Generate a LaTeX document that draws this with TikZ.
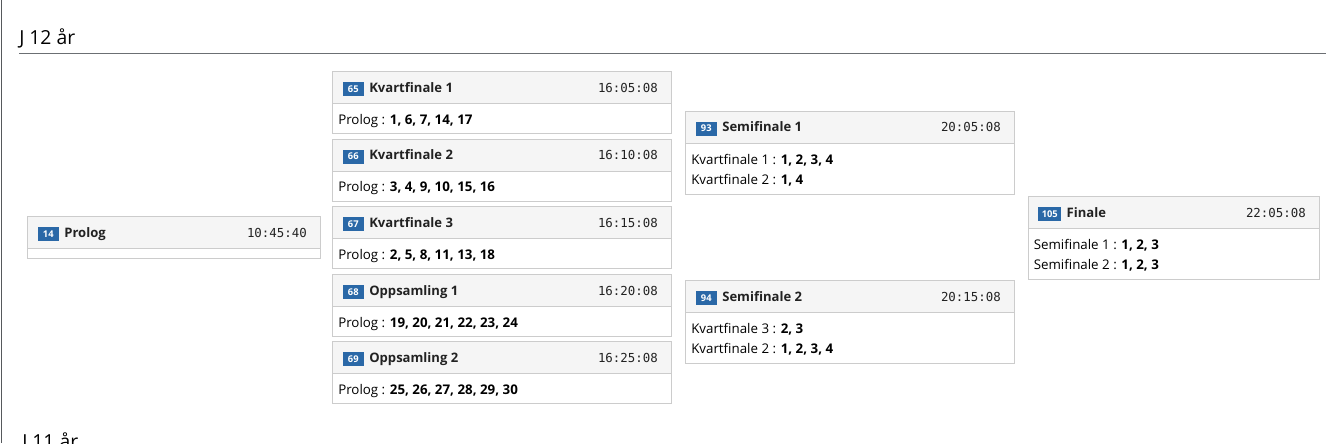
\documentclass[tikz,border=0pt]{standalone}
\usepackage{fontspec}
\setmainfont{Open Sans}[BoldFont={Open Sans Bold}]
\newfontfamily\monof{DejaVu Sans Mono}
\definecolor{bcol}{HTML}{CCCCCC}
\definecolor{hfill}{HTML}{F5F5F5}
\definecolor{bblue}{HTML}{2A68A7}
\definecolor{tcol}{HTML}{222222}
\definecolor{rulecol}{HTML}{6B6F73}
\newlength\px \setlength\px{0.75pt}
\tikzset{
 hdr/.style={draw=bcol, fill=hfill, line width=1\px, anchor=north west, minimum height=32\px, inner sep=0pt, outer sep=0pt},
 bdy/.style={draw=bcol, fill=white, line width=1\px, anchor=north west, inner sep=0pt, outer sep=0pt},
 badge/.style={fill=bblue, text=white, font=\fontsize{7}{8}\selectfont\bfseries, minimum height=14\px, minimum width=21\px, inner xsep=2.6pt, inner ysep=0pt, anchor=west},
 ttl/.style={font=\fontsize{9.8}{11}\selectfont\bfseries, text=tcol, anchor=base west, inner sep=0pt},
 tm/.style={font=\monof\fontsize{9.3}{11}\selectfont, text=tcol, anchor=base east, inner sep=0pt},
 btxt/.style={font=\fontsize{10}{11}\selectfont, text=black, anchor=base west, inner sep=0pt},
 heading/.style={font=\fontsize{14.5}{17}\selectfont, text=black, anchor=base west, inner sep=0pt},
}
% #1 name, #2 x, #3 top, #4 width, #5 badge, #6 title, #7 time, #8 body height
\newcommand\card[8]{%
 \node[hdr, minimum width=#4\px] (#1h) at (#2,#3) {};
 \node[bdy, minimum width=#4\px, minimum height=#8\px] (#1b) at (#1h.south west) {};
 \node[badge] (#1n) at ([xshift=10\px,yshift=-17.5\px]#1h.north west) {#5};
 \node[ttl] (#1t) at ([xshift=5\px,yshift=-20.5\px]#1h.north west -| #1n.east) {#6};
 \node[tm] (#1c) at ([xshift=-13\px,yshift=-20.5\px]#1h.north east) {#7};
}
\newcommand\bline[3]{% node name, card name, offset
 \node[btxt] (#1) at ([xshift=5.5\px,yshift=-#3\px]#2b.north west)}
\begin{document}
\begin{tikzpicture}[x=0.75pt,y=-0.75pt]
\useasboundingbox (0,0) rectangle (1326,443);
\clip (0,0) rectangle (1326,443);
\fill[white] (0,0) rectangle (1326,443);
\draw[line width=1.5\px, draw=rulecol!80!black] (1.5,0) -- (1.5,443);
\node[heading] (h12) at (19,44.5) {J 12 år};
\coordinate (r1) at (19,53);
\coordinate (r2) at (1326,53);
\draw[line width=1\px, draw=rulecol] (r1) -- (r2);
\node[heading] (h11) at (22,448) {J 11 år};

\card{p}{27.5}{216.5}{292.5}{14}{Prolog}{10:45:40}{10}

\card{k1}{332.5}{71.5}{338.5}{65}{Kvartfinale 1}{16:05:08}{30}
\bline{k1a}{k1}{20.5}{Prolog : \textbf{1, 6, 7, 14, 17}};
\card{k2}{332.5}{139}{338.5}{66}{Kvartfinale 2}{16:10:08}{30}
\bline{k2a}{k2}{20.5}{Prolog : \textbf{3, 4, 9, 10, 15, 16}};
\card{k3}{332.5}{206.5}{338.5}{67}{Kvartfinale 3}{16:15:08}{30}
\bline{k3a}{k3}{20.5}{Prolog : \textbf{2, 5, 8, 11, 13, 18}};
\card{o1}{332.5}{274.5}{338.5}{68}{Oppsamling 1}{16:20:08}{30}
\bline{o1a}{o1}{20.5}{Prolog : \textbf{19, 20, 21, 22, 23, 24}};
\card{o2}{332.5}{341.5}{338.5}{69}{Oppsamling 2}{16:25:08}{30}
\bline{o2a}{o2}{20.5}{Prolog : \textbf{25, 26, 27, 28, 29, 30}};

\card{s1}{685.5}{111}{328.5}{93}{Semifinale 1}{20:05:08}{51}
\bline{s1a}{s1}{21}{Kvartfinale 1 : \textbf{1, 2, 3, 4}};
\bline{s1b}{s1}{41}{Kvartfinale 2 : \textbf{1, 4}};
\card{s2}{685.5}{280.5}{328.5}{94}{Semifinale 2}{20:15:08}{51}
\bline{s2a}{s2}{21}{Kvartfinale 3 : \textbf{2, 3}};
\bline{s2b}{s2}{41}{Kvartfinale 2 : \textbf{1, 2, 3, 4}};

\card{f}{1028}{196.5}{291}{105}{Finale}{22:05:08}{51}
\bline{fa}{f}{21}{Semifinale 1 : \textbf{1, 2, 3}};
\bline{fb}{f}{41}{Semifinale 2 : \textbf{1, 2, 3}};
\end{tikzpicture}
\end{document}
